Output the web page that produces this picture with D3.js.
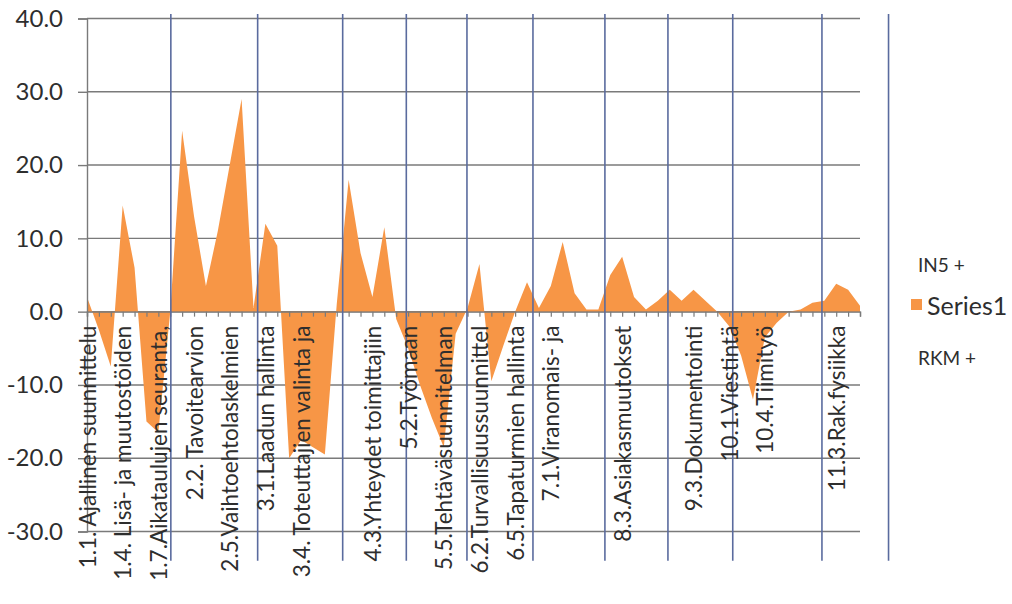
<!DOCTYPE html>
<html>
<head>
<meta charset="utf-8">
<script src="https://cdn.jsdelivr.net/npm/d3@7"></script>
<style>
  body { margin: 0; background: #fff; }
  svg { display: block; font-family: Lato, "Open Sans", sans-serif; }
</style>
</head>
<body>
<svg id="chart" width="1012" height="604"></svg>
<script>
// Category codes along the x axis (one per data point)
const categories = [
  "1.1","1.2","1.3","1.4","1.5","1.6","1.7","1.8",
  "2.1","2.2","2.3","2.4","2.5","2.6","2.7",
  "3.1","3.2","3.3","3.4","3.5","3.6","3.7",
  "4.1","4.2","4.3","4.4",
  "5.1","5.2","5.3","5.4","5.5","5.6",
  "6.1","6.2","6.3","6.4","6.5","6.6","6.7",
  "7.1","7.2","7.3","7.4",
  "8.1","8.2","8.3","8.4","8.5","8.6",
  "9.1","9.2","9.3","9.4","9.5",
  "10.1","10.2","10.3","10.4","10.5","10.6","10.7",
  "11.1","11.2","11.3","11.4","11.5"
];

// Series1 values, one per category
const series1 = [
   2.0, -2.5, -7.5, 14.5,  6.0, -15.0, -16.5,  0.0,
  24.7, 13.0,  3.5, 11.0, 20.0,  29.0,   0.5,
  12.0,  9.0, -20.0, -17.5, -18.5, -19.5, 1.0,
  18.0,  8.0,  2.0, 11.5,
  -1.0, -5.0, -10.0, -14.5, -18.5, -3.0,
   0.5,  6.5, -9.5, -4.7,  0.0,  4.0,  0.5,
   3.5,  9.5,  2.5,  0.3,
   0.3,  5.0,  7.5,  2.0,  0.3,  1.5,
   3.0,  1.5,  3.0,  1.5,  0.0,
  -2.0, -6.0, -12.0, -3.5, -1.5,  0.0,  0.3,
   1.2,  1.5,  3.8,  3.0,  0.8
];

// Tick labels, shown on every third category
const labelEvery = 3;
const tickLabels = [
  "1.1. Ajallinen suunnittelu",
  "1.4. Lisä- ja muutostöiden",
  "1.7.Aikataulujen seuranta,",
  "2.2. Tavoitearvion",
  "2.5.Vaihtoehtolaskelmien",
  "3.1.Laadun hallinta",
  "3.4. Toteuttajien valinta ja",
  "",
  "4.3.Yhteydet toimittajiin",
  "5.2.Työmaan",
  "5.5.Tehtäväsuunnitelman",
  "6.2.Turvallisuussuunnittel",
  "6.5.Tapaturmien hallinta",
  "7.1.Viranomais- ja",
  "",
  "8.3.Asiakasmuutokset",
  "",
  "9.3.Dokumentointi",
  "10.1.Viestintä",
  "10.4.Tiimityö",
  "",
  "11.3.Rak.fysiikka"
];

// Vertical section markers, in category-index units
const sectionMarks = [7.05, 14.35, 21.5, 26.85, 31.95, 37.5, 43.55, 48.85, 54.3, 61.8, 67.4];
const sectionTop = 40.6, sectionBottom = -34;

// Value axis
const yTicks = [-30, -20, -10, 0, 10, 20, 30, 40];

// Legend entries
const legendHeader = "IN5 +";
const legendFooter = "RKM +";
const seriesName = "Series1";

const fill = "#F79646";
const textColor = "#2e2e2e";

const svg = d3.select("#chart");
const plot = { left: 87, right: 860, top: 18.5, bottom: 531.5 };

const x = d3.scaleLinear().domain([0, categories.length - 1]).range([plot.left, plot.right]);
const xPoint = d3.scalePoint().domain(categories).range([plot.left, plot.right]);
const y = d3.scaleLinear().domain([-30, 40]).range([plot.bottom, plot.top]);

// Horizontal gridlines
svg.append("g")
  .selectAll("line")
  .data(yTicks)
  .join("line")
  .attr("x1", plot.left).attr("x2", plot.right)
  .attr("y1", d => y(d)).attr("y2", d => y(d))
  .attr("stroke", "#7a7a7a").attr("stroke-width", 1.4);

// Area
const area = d3.area()
  .x((d, i) => x(i))
  .y0(y(0))
  .y1(d => y(d));
svg.append("path")
  .datum(series1)
  .attr("d", area)
  .attr("fill", fill);

// Y axis
const yAxis = svg.append("g")
  .attr("transform", `translate(${plot.left},0)`)
  .call(d3.axisLeft(y).tickValues(yTicks).tickFormat(d => d.toFixed(1)).tickSize(9).tickPadding(15));
yAxis.select(".domain").attr("stroke", "#7a7a7a").attr("stroke-width", 1.4);
yAxis.selectAll(".tick line").attr("stroke", "#7a7a7a").attr("stroke-width", 1.4);
yAxis.selectAll(".tick text")
  .attr("fill", textColor)
  .style("font-size", "24px")
  .style("font-family", "Lato, 'Open Sans', sans-serif");

// Category axis along zero
const xAxis = svg.append("g")
  .attr("transform", `translate(0,${y(0)})`)
  .call(d3.axisBottom(xPoint).tickSize(5).tickFormat(""));
xAxis.select(".domain").attr("stroke", "#7a7a7a").attr("stroke-width", 1.4);
xAxis.selectAll(".tick line").attr("stroke", "#7a7a7a").attr("stroke-width", 1.2);

// Section markers
svg.append("g")
  .selectAll("line")
  .data(sectionMarks)
  .join("line")
  .attr("x1", d => x(d)).attr("x2", d => x(d))
  .attr("y1", y(sectionTop)).attr("y2", y(sectionBottom))
  .attr("stroke", "#5a6b9e").attr("stroke-width", 1.6);

// Rotated category labels
svg.append("g")
  .selectAll("text")
  .data(tickLabels)
  .join("text")
  .attr("transform", (d, i) => `translate(${x(i * labelEvery)},${y(0) + 14}) rotate(-90)`)
  .attr("text-anchor", "end")
  .attr("dominant-baseline", "central")
  .attr("fill", textColor)
  .style("font-size", "22.5px")
  .text(d => d);

// Legend
const lg = svg.append("g");
lg.append("text").attr("x", 918).attr("y", 264).attr("dominant-baseline", "central")
  .attr("fill", textColor).style("font-size", "19px").text(legendHeader);
lg.append("rect").attr("x", 911).attr("y", 299).attr("width", 11).attr("height", 11).attr("fill", fill);
lg.append("text").attr("x", 927).attr("y", 305).attr("dominant-baseline", "central")
  .attr("fill", textColor).style("font-size", "25px").text(seriesName);
lg.append("text").attr("x", 918).attr("y", 357).attr("dominant-baseline", "central")
  .attr("fill", textColor).style("font-size", "19px").text(legendFooter);
</script>
</body>
</html>
